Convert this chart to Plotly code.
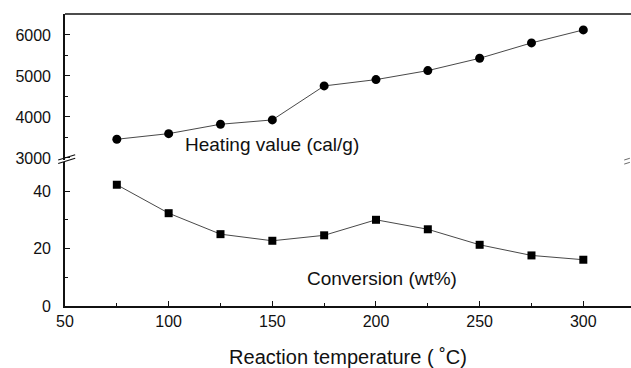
import plotly.graph_objects as go

temperature = [75, 100, 125, 150, 175, 200, 225, 250, 275, 300]
heating_value = [3456, 3593, 3822, 3927, 4756, 4910, 5130, 5430, 5805, 6122]
conversion = [42.2, 32.3, 25.0, 22.7, 24.6, 30.0, 26.7, 21.3, 17.6, 16.1]

x_ticks = [50, 100, 150, 200, 250, 300]
top_ticks = [3000, 4000, 5000, 6000]
bottom_ticks = [0, 20, 40]

FONT = "Liberation Sans, Arial, sans-serif"
INK = "#111"

fig = go.Figure()
fig.add_trace(go.Scatter(
    x=temperature, y=heating_value, xaxis="x", yaxis="y2",
    mode="lines+markers",
    line=dict(color="#333", width=0.9),
    marker=dict(symbol="circle", size=9, color="black"),
    showlegend=False))
fig.add_trace(go.Scatter(
    x=temperature, y=conversion, xaxis="x", yaxis="y",
    mode="lines+markers",
    line=dict(color="#333", width=0.9),
    marker=dict(symbol="square", size=8, color="black"),
    showlegend=False))

axis_common = dict(showgrid=False, zeroline=False, showline=True,
                   linecolor=INK, linewidth=1.6, ticks="inside",
                   tickcolor=INK, ticklen=5, tickwidth=1,
                   tickfont=dict(family=FONT, size=16, color=INK))

fig.update_layout(
    width=631, height=368,
    margin=dict(l=65, r=0, t=14, b=62),
    paper_bgcolor="white", plot_bgcolor="white",
    xaxis=dict(range=[50, 323], tickvals=x_ticks, anchor="y",
               minor=dict(ticks="inside", dtick=25, tick0=50, ticklen=3, tickcolor=INK),
               title=dict(text="Reaction temperature ( ˚C)",
                          font=dict(family=FONT, size=20, color=INK), standoff=21),
               **axis_common),
    yaxis=dict(domain=[0, 0.493], range=[0, 50.1], tickvals=bottom_ticks, anchor="x",
               minor=dict(ticks="inside", dtick=10, ticklen=3, tickcolor=INK),
               ticklabelstandoff=9, **axis_common),
    yaxis2=dict(domain=[0.5, 1], range=[2950, 6510], tickvals=top_ticks, anchor="x",
                minor=dict(ticks="inside", dtick=500, ticklen=3, tickcolor=INK),
                ticklabelstandoff=9, **axis_common),
)

# top border
fig.add_shape(type="line", xref="paper", yref="paper", x0=0, x1=1, y0=1, y1=1,
              line=dict(color=INK, width=1.6))
# break marks on left axis
for dy in (0, 0.012):
    fig.add_shape(type="line", xref="paper", yref="paper",
                  x0=-0.012, x1=0.018, y0=0.488 + dy, y1=0.506 + dy,
                  line=dict(color=INK, width=1.2))
# break marks on right edge
for dy in (0, 0.014):
    fig.add_shape(type="line", xref="paper", yref="paper",
                  x0=0.988, x1=0.998, y0=0.486 + dy, y1=0.492 + dy,
                  line=dict(color="#444", width=0.8))

fig.add_annotation(text="Heating value (cal/g)", x=150, y=3320, xref="x", yref="y2",
                   showarrow=False, xanchor="center",
                   font=dict(family=FONT, size=19, color=INK))
fig.add_annotation(text="Conversion (wt%)", x=203, y=9.7, xref="x", yref="y",
                   showarrow=False, xanchor="center",
                   font=dict(family=FONT, size=19, color=INK))

fig.write_html("out.html")
